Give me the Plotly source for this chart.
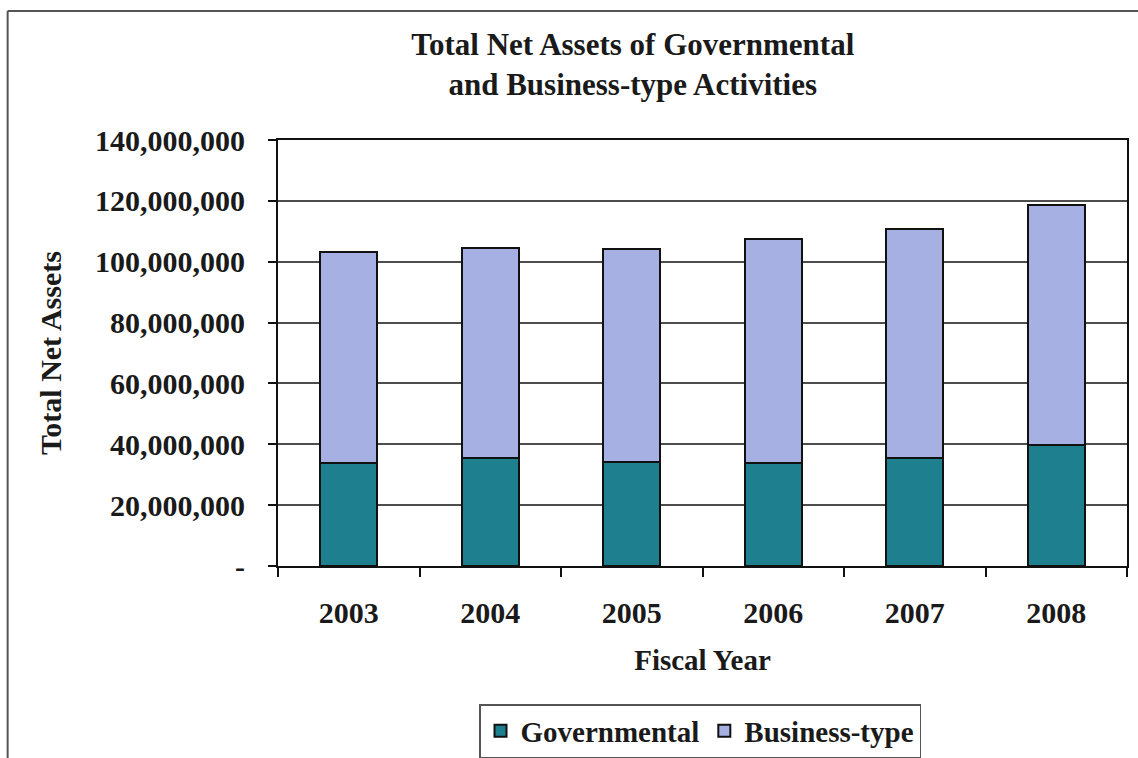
import plotly.graph_objects as go

# Fiscal years and net assets (dollars) by activity type
years = ["2003", "2004", "2005", "2006", "2007", "2008"]
governmental = [33_700_000, 35_500_000, 34_200_000, 34_000_000, 35_400_000, 39_900_000]
business_type = [69_400_000, 69_000_000, 70_100_000, 73_600_000, 75_400_000, 78_600_000]

y_tick_values = [0, 20_000_000, 40_000_000, 60_000_000, 80_000_000,
                 100_000_000, 120_000_000, 140_000_000]
y_tick_labels = ["-", "20,000,000", "40,000,000", "60,000,000", "80,000,000",
                 "100,000,000", "120,000,000", "140,000,000"]

FONT = "Liberation Serif, Times New Roman, serif"
INK = "#1a1a1a"
TEAL = "#1e7f8f"
LAVENDER = "#a6b0e2"

fig = go.Figure()
fig.add_trace(go.Bar(
    name="Governmental", x=years, y=governmental,
    marker=dict(color=TEAL, line=dict(color="#111111", width=2)),
))
fig.add_trace(go.Bar(
    name="Business-type", x=years, y=business_type,
    marker=dict(color=LAVENDER, line=dict(color="#111111", width=2)),
))

fig.update_layout(
    width=1138, height=758,
    barmode="stack", bargap=0.6,
    paper_bgcolor="white", plot_bgcolor="white",
    margin=dict(l=278, r=9, t=140, b=192),
    font=dict(family=FONT, size=28, color=INK, weight="bold"),
    title=dict(
        text="Total Net Assets of Governmental<br>and Business-type Activities",
        x=0.556, xanchor="center", xref="container",
        y=1 - 55 / 758, yanchor="top", yref="container",
        pad=dict(t=0),
        font=dict(family=FONT, size=31, weight="bold", color=INK),
    ),
    legend=dict(
        orientation="h",
        xref="container", x=700 / 1138, xanchor="center",
        yref="container", y=1 - 704 / 758, yanchor="top",
        bordercolor="#555555", borderwidth=1.5, bgcolor="white",
        font=dict(family=FONT, size=29, weight="bold", color=INK),
        traceorder="normal", itemsizing="constant", itemwidth=30,
        tracegroupgap=0,
    ),
    showlegend=True,
)

fig.update_xaxes(
    type="category",
    showline=True, linecolor="#111111", linewidth=2, mirror=True,
    ticks="outside", tickson="boundaries", ticklen=9, tickcolor="#111111", tickwidth=1.5,
    ticklabelstandoff=19,
    tickfont=dict(family=FONT, size=30, weight="bold"),
    title=dict(text="Fiscal Year", standoff=22,
               font=dict(family=FONT, size=29, weight="bold")),
)

fig.update_yaxes(
    range=[0, 140_000_000],
    tickvals=y_tick_values, ticktext=y_tick_labels,
    showline=True, linecolor="#111111", linewidth=2, mirror=True,
    showgrid=True, gridcolor="#4d4d4d", gridwidth=1.5,
    ticks="outside", ticklen=8, tickcolor="#111111", tickwidth=1.5,
    ticklabelstandoff=17,
    tickfont=dict(family=FONT, size=30, weight="bold"),
    title=dict(text="Total Net Assets", standoff=25,
               font=dict(family=FONT, size=30, weight="bold")),
    zeroline=False,
)

# Outer frame around the whole chart
frame_x = (7 - 278) / 851
frame_top = 1 + (140 - 11) / 426
fig.add_shape(type="line", xref="paper", yref="paper",
              x0=frame_x, x1=frame_x, y0=-0.6, y1=frame_top,
              line=dict(color="#555555", width=2))
fig.add_shape(type="line", xref="paper", yref="paper",
              x0=frame_x, x1=1.02, y0=frame_top, y1=frame_top,
              line=dict(color="#555555", width=2))

fig.write_html("out.html")
